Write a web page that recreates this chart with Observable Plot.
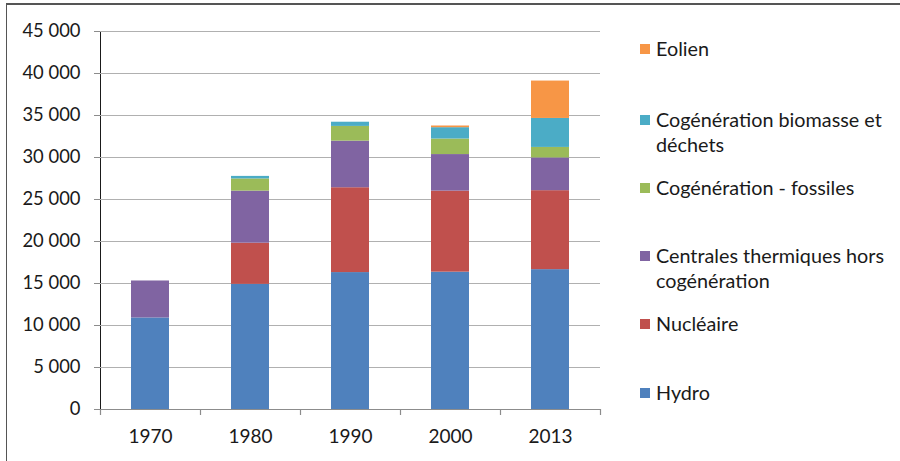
<!DOCTYPE html>
<html>
<head>
<meta charset="utf-8">
<script src="https://cdn.jsdelivr.net/npm/d3@7"></script>
<script src="https://cdn.jsdelivr.net/npm/@observablehq/plot@0.6"></script>
<style>
  html, body { margin: 0; padding: 0; background: #fff; }
  #wrap { position: relative; width: 900px; height: 461px; overflow: hidden; font-family: Lato, "Open Sans", sans-serif; }
  #frame { position: absolute; left: 6px; top: 3px; width: 1000px; height: 1000px; border-top: 2px solid #555; border-left: 1.5px solid #555; pointer-events: none; }
  #legend { position: absolute; left: 0; top: 0; }
  .item { position: absolute; left: 640px; font-size: 19.8px; line-height: 25px; color: #1a1a1a; white-space: nowrap; }
  .swatch { position: absolute; left: 0; top: 8px; width: 10px; height: 10px; }
  .label { position: absolute; left: 16px; top: 0; }
  svg [aria-label^='y-axis'] text { font-size: 18.4px; }
  svg [aria-label^='x-axis'] text { font-size: 19px; }
</style>
</head>
<body>
<div id="wrap">
  <div id="chart"></div>
  <div id="legend"></div>
  <div id="frame"></div>
</div>
<script>
// Production d'électricité par filière (GWh)
const years = ["1970", "1980", "1990", "2000", "2013"];
const sources = [
  "Hydro",
  "Nucléaire",
  "Centrales thermiques hors cogénération",
  "Cogénération - fossiles",
  "Cogénération biomasse et déchets",
  "Eolien"
];
const hydro         = [10900, 14900, 16300, 16350, 16650];
const nucleaire     = [    0,  4900, 10100,  9650,  9400];
const thermique     = [ 4400,  6200,  5550,  4350,  3900];
const cogenFossiles = [    0,  1450,  1750,  1850,  1250];
const cogenBiomasse = [    0,   300,   500,  1350,  3450];
const eolien        = [    0,     0,     0,   200,  4450];
const colors = ["#4F81BD", "#C0504D", "#8064A2", "#9BBB59", "#4BACC6", "#F79646"];
const yTicks = [0, 5000, 10000, 15000, 20000, 25000, 30000, 35000, 40000, 45000];

// legend entries, top to bottom, with their wrapped lines
const legendLines = [
  ["Eolien"],
  ["Cogénération biomasse et", "déchets"],
  ["Cogénération - fossiles"],
  ["Centrales thermiques hors", "cogénération"],
  ["Nucléaire"],
  ["Hydro"]
];
const legendSources = [
  "Eolien",
  "Cogénération biomasse et déchets",
  "Cogénération - fossiles",
  "Centrales thermiques hors cogénération",
  "Nucléaire",
  "Hydro"
];

const seriesValues = [hydro, nucleaire, thermique, cogenFossiles, cogenBiomasse, eolien];
const rows = [];
sources.forEach((s, k) => years.forEach((yr, i) => rows.push({year: yr, source: s, value: seriesValues[k][i]})));

const fmt = d3.formatLocale({decimal: ",", thousands: " ", grouping: [3], currency: ["", " €"]}).format(",");

const chart = Plot.plot({
  width: 900,
  height: 461,
  marginLeft: 100,
  marginRight: 300,
  marginTop: 31,
  marginBottom: 52,
  style: {fontFamily: "Lato, 'Open Sans', sans-serif", fontSize: "18px", color: "#1a1a1a", background: "transparent"},
  x: {domain: years, paddingInner: 0.62, paddingOuter: 0.31, label: null, tickSize: 0, tickPadding: 20},
  y: {domain: [0, 45000], ticks: yTicks, tickFormat: fmt, label: null, tickSize: 6, tickPadding: 14, line: true},
  color: {domain: sources, range: colors},
  marks: [
    Plot.ruleY(yTicks.filter(d => d > 0), {stroke: "#b0b0b0", strokeWidth: 1.2}),
    Plot.barY(rows, Plot.stackY({x: "year", y: "value", fill: "source", order: sources})),
    Plot.ruleY([0], {stroke: "#8c8c8c", strokeWidth: 1.2}),
    // category separators on the x axis
    Plot.ruleX(years, {x: d => d, y1: 0, y2: 0, insetBottom: -6, dx: -50, stroke: "#8c8c8c", strokeWidth: 1.2}),
    Plot.ruleX([years[years.length - 1]], {x: d => d, y1: 0, y2: 0, insetBottom: -6, dx: 50, stroke: "#8c8c8c", strokeWidth: 1.2})
  ]
});
// keep the y axis strokes in the same gray as the x axis
chart.querySelectorAll("[aria-label^='y-axis'] path, [aria-label^='y-axis'] line, [aria-label^='y-axis']").forEach(el => {
  if (el.getAttribute("stroke")) el.setAttribute("stroke", "#8c8c8c");
});
document.getElementById("chart").appendChild(chart);

// legend to the right of the plot
const legendTops = [36, 107, 175, 243, 311, 380];
const legend = document.getElementById("legend");
legendSources.forEach((s, i) => {
  const item = document.createElement("div");
  item.className = "item";
  item.style.top = legendTops[i] + "px";
  const sw = document.createElement("div");
  sw.className = "swatch";
  sw.style.background = colors[sources.indexOf(s)];
  const lab = document.createElement("div");
  lab.className = "label";
  lab.innerHTML = legendLines[i].join("<br>");
  item.appendChild(sw);
  item.appendChild(lab);
  legend.appendChild(item);
});
</script>
</body>
</html>
